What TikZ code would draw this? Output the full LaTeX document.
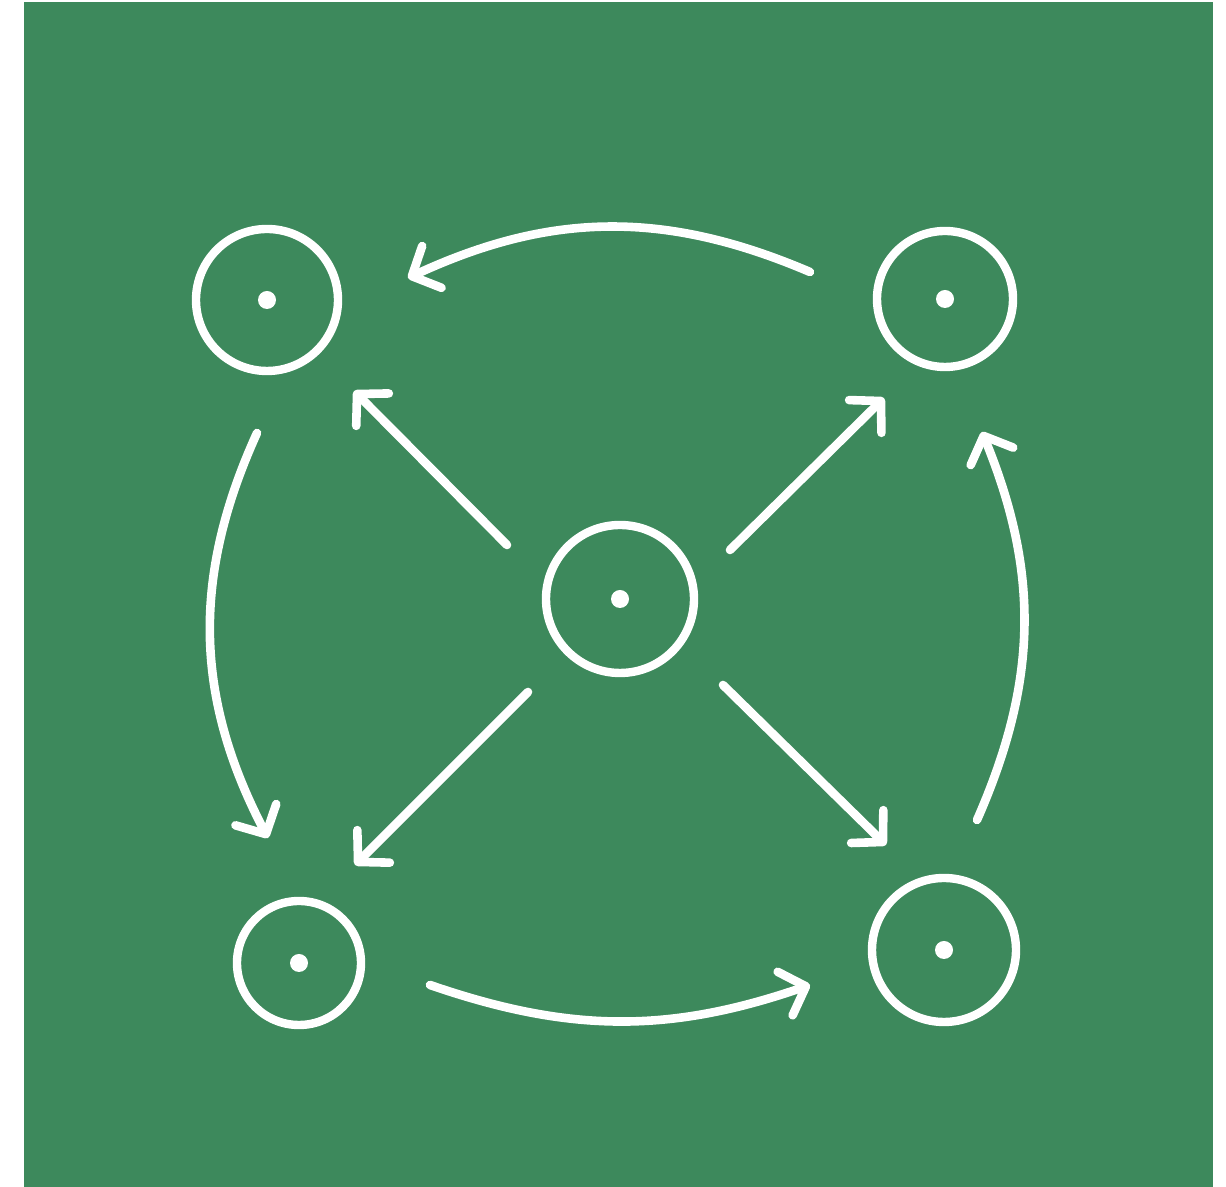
\documentclass[tikz,border=0pt]{standalone}
\usetikzlibrary{arrows.meta}

\definecolor{board}{RGB}{61,137,92}

\begin{document}
\begin{tikzpicture}[
  x=0.5pt, y=0.5pt,
  ring/.style={circle, draw=white, line width=4.2pt, minimum size=#1, inner sep=0pt},
  flow/.style={draw=white, line width=4.3pt, line cap=round,
    -{Straight Barb[length=11pt, width=23pt, line cap=round, line join=round]}}]

  % ---- background ---------------------------------------------------------
  \useasboundingbox (0,0) rectangle (1226,1187);
  \fill[white] (0,0) rectangle (1226,1187);
  \fill[board] (24,0) rectangle (1213,1185);

  % ---- rings --------------------------------------------------------------
  \node[ring=71pt] (tl)  at (267,887) {};
  \node[ring=68pt] (tr)  at (945,888) {};
  \node[ring=74pt] (ctr) at (620,588) {};
  \node[ring=62pt] (bl)  at (299,224) {};
  \node[ring=72pt] (br)  at (944,237) {};
  % centre dots
  \foreach \n in {tl,tr,ctr,bl,br}
    \fill[white] (\n) circle (9);

  % ---- arrow ends ---------------------------------------------------------
  \coordinate (topS) at (810,915);  \coordinate (topE) at (408,909);
  \coordinate (ltS)  at (257,754);  \coordinate (ltE)  at (268,349);
  \coordinate (btS)  at (430,202);  \coordinate (btE)  at (810,202);
  \coordinate (rtS)  at (977,367);  \coordinate (rtE)  at (982,755);
  \coordinate (dTL)  at (507,642);  \coordinate (eTL)  at (354,796);
  \coordinate (dTR)  at (730,637);  \coordinate (eTR)  at (884,789);
  \coordinate (dBL)  at (528,495);  \coordinate (eBL)  at (355,322);
  \coordinate (dBR)  at (723,502);  \coordinate (eBR)  at (886,342);

  % ---- outer cycle --------------------------------------------------------
  \draw[flow] (topS) to[bend right=24] (topE);
  \draw[flow] (ltS)  to[bend right=26] (ltE);
  \draw[flow] (btS)  to[bend right=19] (btE);
  \draw[flow] (rtS)  to[bend right=23] (rtE);

  % ---- spokes from the centre ---------------------------------------------
  \draw[flow] (dTL) -- (eTL);
  \draw[flow] (dTR) -- (eTR);
  \draw[flow] (dBL) -- (eBL);
  \draw[flow] (dBR) -- (eBR);
\end{tikzpicture}
\end{document}
